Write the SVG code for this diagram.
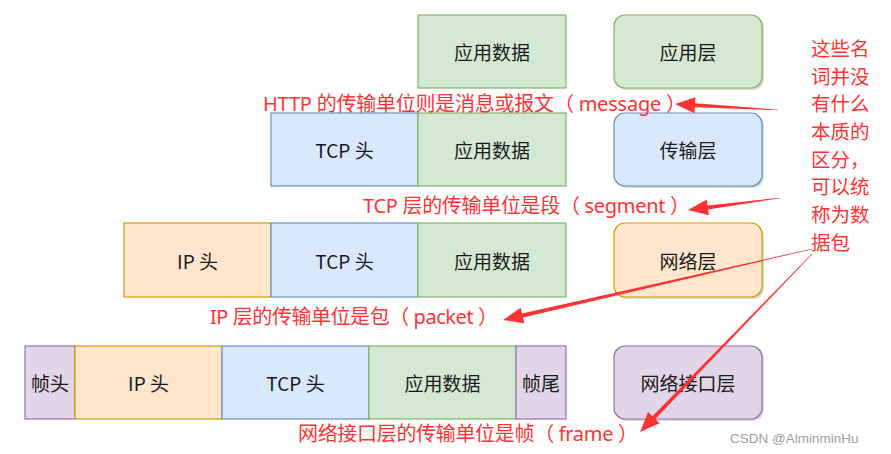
<svg xmlns="http://www.w3.org/2000/svg" width="891" height="454" viewBox="0 0 891 454">
<style>
.box{stroke-width:1.2}
.g{fill:#d5e8d4;stroke:#82b366}
.b{fill:#dae8fc;stroke:#6c8ebf}
.o{fill:#ffe6cc;stroke:#d79b00}
.p{fill:#e1d5e7;stroke:#9673a6}
.sh{fill:#000;opacity:0.15}
.t{font-family:"Noto Sans CJK SC","Noto Sans",sans-serif;font-size:19px;fill:#1a1a1a;text-anchor:middle;dominant-baseline:central}
.r{font-family:"Noto Sans","Noto Sans CJK SC",sans-serif;font-size:20px;fill:#ff3333}
.rv{font-family:"Noto Sans CJK SC",sans-serif;font-size:19.5px;fill:#ff3333}
.arr{fill:#ff3333}
.wm{font-family:"Liberation Sans",Arial,sans-serif;font-size:13.5px;fill:#a0a0a0}
</style>
<rect width="891" height="454" fill="#fff"/>
<g id="row1">
<rect class="box g" x="418" y="15" width="148" height="73"/>
<text class="t" x="492" y="51.5">应用数据</text>
</g>
<g id="app-layer">
<rect class="sh" x="616" y="17" width="148" height="73" rx="11"/>
<rect class="box g" x="614" y="15" width="148" height="73" rx="11"/>
<text class="t" x="688" y="51.5">应用层</text>
</g>
<g id="row2">
<rect class="box b" x="271" y="113" width="147" height="73"/>
<text class="t" x="344.5" y="149.5">TCP 头</text>
<rect class="box g" x="418" y="113" width="148" height="73"/>
<text class="t" x="492" y="149.5">应用数据</text>
</g>
<g id="transport-layer">
<rect class="sh" x="616" y="115" width="148" height="73" rx="11"/>
<rect class="box b" x="614" y="113" width="148" height="73" rx="11"/>
<text class="t" x="688" y="149.5">传输层</text>
</g>
<g id="row3">
<rect class="box o" x="124" y="223" width="147" height="74"/>
<text class="t" x="197.5" y="260">IP 头</text>
<rect class="box b" x="271" y="223" width="147" height="74"/>
<text class="t" x="344.5" y="260">TCP 头</text>
<rect class="box g" x="418" y="223" width="148" height="74"/>
<text class="t" x="492" y="260">应用数据</text>
</g>
<g id="network-layer">
<rect class="sh" x="616" y="225" width="148" height="74" rx="11"/>
<rect class="box o" x="614" y="223" width="148" height="74" rx="11"/>
<text class="t" x="688" y="260">网络层</text>
</g>
<g id="row4">
<rect class="box p" x="25" y="346" width="50" height="73"/>
<text class="t" x="50" y="382.5">帧头</text>
<rect class="box o" x="75" y="346" width="147" height="73"/>
<text class="t" x="148.5" y="382.5">IP 头</text>
<rect class="box b" x="222" y="346" width="147" height="73"/>
<text class="t" x="295.5" y="382.5">TCP 头</text>
<rect class="box g" x="369" y="346" width="147" height="73"/>
<text class="t" x="442.5" y="382.5">应用数据</text>
<rect class="box p" x="516" y="346" width="50" height="73"/>
<text class="t" x="541" y="382.5">帧尾</text>
</g>
<g id="link-layer">
<rect class="sh" x="616" y="348" width="148" height="73" rx="11"/>
<rect class="box p" x="614" y="346" width="148" height="73" rx="11"/>
<text class="t" x="688" y="382.5">网络接口层</text>
</g>
<g id="labels">
<text class="r" x="263" y="111" textLength="423" lengthAdjust="spacing">HTTP 的传输单位则是消息或报文（ message ）</text>
<text class="r" x="363" y="213" textLength="327" lengthAdjust="spacing">TCP 层的传输单位是段（ segment ）</text>
<text class="r" x="210" y="324" textLength="288" lengthAdjust="spacing">IP 层的传输单位是包（ packet ）</text>
<text class="r" x="298" y="441" textLength="340" lengthAdjust="spacing">网络接口层的传输单位是帧（ frame ）</text>
</g>
<g id="note">
<text class="rv" x="811" y="56">这些名</text>
<text class="rv" x="811" y="84">词并没</text>
<text class="rv" x="811" y="111">有什么</text>
<text class="rv" x="811" y="139">本质的</text>
<text class="rv" x="811" y="167">区分，</text>
<text class="rv" x="811" y="194">可以统</text>
<text class="rv" x="811" y="222">称为数</text>
<text class="rv" x="811" y="250">据包</text>
</g>
<g id="connectors">
<polygon class="arr" points="778.02,109.70 695.09,103.16 695.44,97.17 675,104 694.50,113.15 694.85,107.16 777.98,110.30"/>
<polygon class="arr" points="779.96,197.70 707.57,205.43 706.80,199.48 688,210 708.86,215.34 708.09,209.39 780.04,198.30"/>
<polygon class="arr" points="811.93,248.71 522.04,313.57 520.70,307.72 503,320 524.28,323.32 522.94,317.47 812.07,249.29"/>
<polygon class="arr" points="811.78,253.79 652.46,416.23 648.15,412.06 640,432 659.65,423.18 655.34,419.01 812.22,254.21"/>
</g>
<text class="wm" x="730" y="443">CSDN @AlminminHu</text>
</svg>
